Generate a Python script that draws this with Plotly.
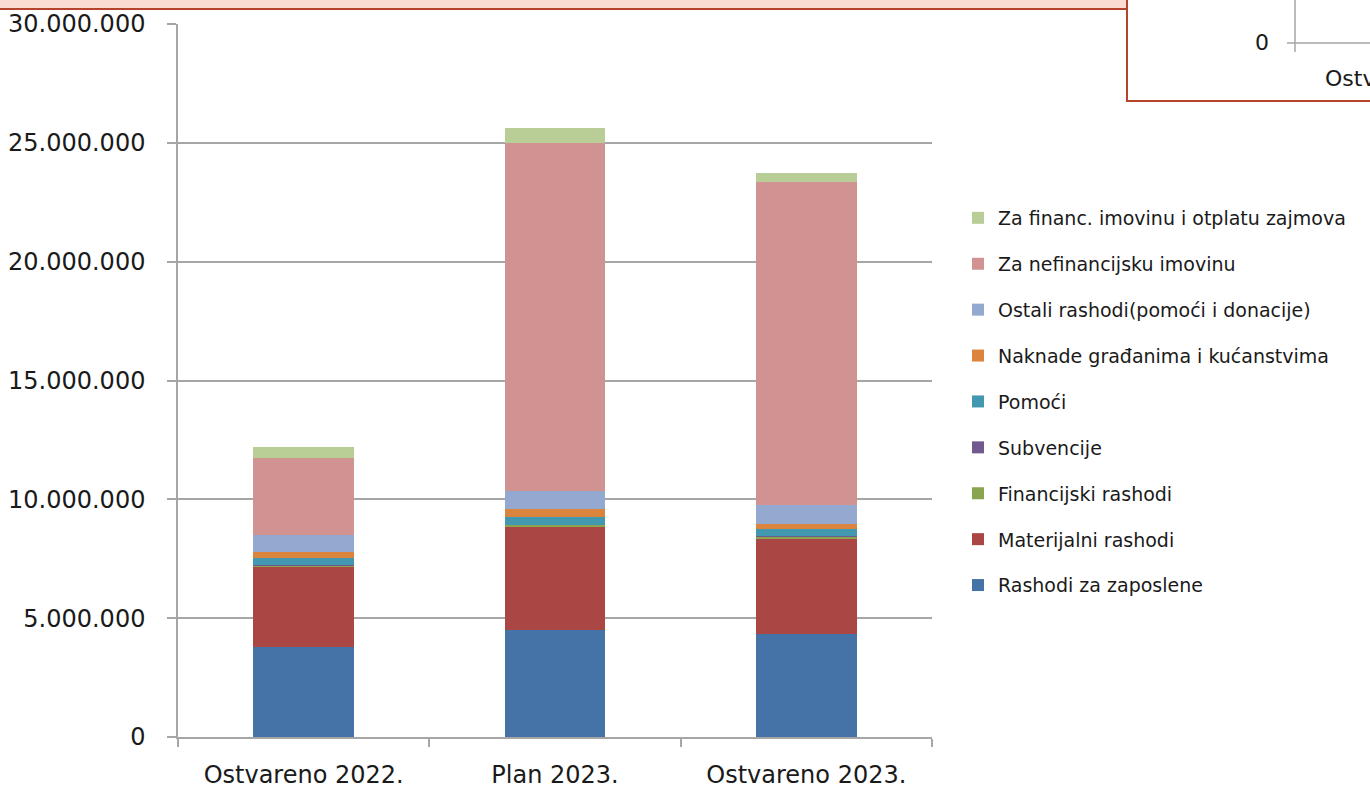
import plotly.graph_objects as go

categories = ["Ostvareno 2022.", "Plan 2023.", "Ostvareno 2023."]

series_names = [
    "Rashodi za zaposlene",
    "Materijalni rashodi",
    "Financijski rashodi",
    "Subvencije",
    "Pomoći",
    "Naknade građanima i kućanstvima",
    "Ostali rashodi(pomoći i donacije)",
    "Za nefinancijsku imovinu",
    "Za financ. imovinu i otplatu zajmova",
]

rashodi_zaposlene = [3790000, 4500000, 4350000]
materijalni = [3370000, 4330000, 3990000]
financijski = [60000, 90000, 90000]
subvencije = [10000, 10000, 10000]
pomoci = [300000, 330000, 300000]
naknade = [270000, 320000, 230000]
ostali = [700000, 780000, 810000]
nefinancijska = [3230000, 14620000, 13560000]
financ_imovina = [470000, 630000, 400000]

series_values = [rashodi_zaposlene, materijalni, financijski, subvencije, pomoci,
                 naknade, ostali, nefinancijska, financ_imovina]

colors = ["#4572A7", "#AA4643", "#89A54E", "#71588F", "#4198AF",
          "#DB843D", "#93A9CF", "#D19392", "#B9CD96"]

y_ticks = [0, 5000000, 10000000, 15000000, 20000000, 25000000, 30000000]

fig = go.Figure()
n = len(series_names)
for i, (name, vals) in enumerate(zip(series_names, series_values)):
    fig.add_trace(go.Bar(
        x=categories, y=vals, name=name, legendgroup=f"g{i}",
        legendrank=100 * (n - i),
        marker=dict(color=colors[i], line=dict(width=0)),
    ))

L, R, T, B = 178, 932, 24, 737
W, H = 1370, 791

def px(x):
    return (x - L) / (R - L)

def py(y):
    return (B - y) / (B - T)

grid = "#A6A6A6"
txt = "#1A1A1A"
font_family = "DejaVu Sans"

fig.update_layout(
    width=W, height=H,
    margin=dict(l=L, r=W - R, t=T, b=H - B, autoexpand=False),
    barmode="stack", bargap=0.6,
    separators=",.",
    plot_bgcolor="white", paper_bgcolor="white",
    font=dict(family=font_family, color=txt),
    showlegend=True,
    legend=dict(
        x=px(958), xanchor="left", y=py(199), yanchor="top",
        traceorder="grouped", tracegroupgap=18.2,
        font=dict(size=19, color=txt, family=font_family),
        itemwidth=30, bgcolor="rgba(0,0,0,0)",
    ),
    xaxis=dict(
        showgrid=False, showline=True, linecolor=grid, linewidth=1.5,
        ticks="outside", tickson="boundaries", ticklen=8, tickcolor=grid, tickwidth=1.5,
        tickfont=dict(size=24, color=txt), fixedrange=True, ticklabelstandoff=15,
    ),
    yaxis=dict(
        range=[0, 30000000], tickvals=y_ticks, tickformat=",d",
        showgrid=True, gridcolor=grid, gridwidth=1.5,
        showline=True, linecolor=grid, linewidth=1.5,
        ticks="outside", ticklen=9, tickcolor=grid, tickwidth=1.5,
        tickfont=dict(size=24, color=txt), zeroline=False, fixedrange=True,
        ticklabelstandoff=17,
    ),
)

shapes = []
shapes.append(dict(type="rect", xref="paper", yref="paper",
                   x0=px(-5), x1=px(1127), y0=py(9), y1=py(-5),
                   fillcolor="#FADCD3", line=dict(width=0), layer="above"))
shapes.append(dict(type="line", xref="paper", yref="paper",
                   x0=px(-5), x1=px(1127), y0=py(9), y1=py(9),
                   line=dict(color="#B5452A", width=2), layer="above"))
shapes.append(dict(type="rect", xref="paper", yref="paper",
                   x0=px(1127), x1=px(1400), y0=py(101), y1=py(-20),
                   fillcolor="white", line=dict(color="#B5452A", width=2), layer="above"))
shapes.append(dict(type="line", xref="paper", yref="paper",
                   x0=px(1287), x1=px(1372), y0=py(43), y1=py(43),
                   line=dict(color=grid, width=1.5), layer="above"))
shapes.append(dict(type="line", xref="paper", yref="paper",
                   x0=px(1295), x1=px(1295), y0=py(52), y1=py(-2),
                   line=dict(color=grid, width=1.5), layer="above"))
fig.update_layout(shapes=shapes)

fig.add_annotation(xref="paper", yref="paper", x=px(1271), y=py(42),
                   xanchor="right", yanchor="middle", text="0", showarrow=False,
                   font=dict(size=22, color=txt, family=font_family))
fig.add_annotation(xref="paper", yref="paper", x=px(1323), y=py(78),
                   xanchor="left", yanchor="middle", text="Ostv", showarrow=False,
                   font=dict(size=22, color=txt, family=font_family))

fig.write_html("out.html", config={"displayModeBar": False},
               post_script="document.body.style.margin='0px';")
